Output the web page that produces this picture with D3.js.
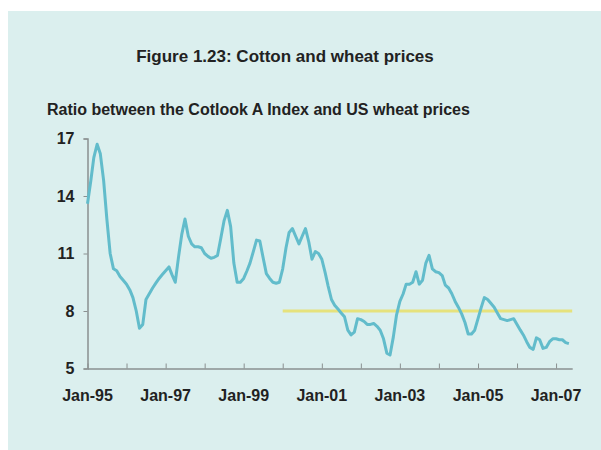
<!DOCTYPE html>
<html>
<head>
<meta charset="utf-8">
<script src="https://cdn.jsdelivr.net/npm/d3@7"></script>
<style>
  body { margin: 0; background: #fff; }
  text { font-family: "Liberation Sans", Arial, sans-serif; font-weight: bold; fill: #222; }
</style>
</head>
<body>
<div id="chart"></div>
<script>
// monthly ratio, Jan-95 onwards
var startMonth = "1995-01";
var ratio = [
  13.6, 14.8, 16.0, 16.7, 16.2, 14.8, 12.8, 11.0, 10.2, 10.1, 9.8, 9.6,
  9.4, 9.1, 8.7, 8.0, 7.1, 7.3, 8.6, 8.9, 9.2, 9.45, 9.7, 9.9,
  10.1, 10.3, 9.9, 9.5, 10.8, 12.0, 12.8, 11.9, 11.5, 11.35, 11.35, 11.3,
  11.0, 10.85, 10.75, 10.8, 10.9, 11.8, 12.7, 13.25, 12.4, 10.5, 9.5, 9.5,
  9.7, 10.1, 10.5, 11.1, 11.7, 11.65, 10.8, 9.95, 9.7, 9.5, 9.45, 9.5,
  10.2, 11.3, 12.1, 12.3, 11.9, 11.5, 11.9, 12.3, 11.6, 10.7, 11.1, 11.0,
  10.7, 10.0, 9.3, 8.6, 8.3, 8.1, 7.9, 7.7, 7.0, 6.75, 6.9, 7.6,
  7.55, 7.45, 7.3, 7.3, 7.35, 7.2, 7.0, 6.55, 5.8, 5.7, 6.65, 7.8,
  8.5, 8.9, 9.4, 9.4, 9.5, 10.05, 9.4, 9.6, 10.5, 10.9, 10.2, 10.05,
  10.0, 9.85, 9.35, 9.2, 8.9, 8.5, 8.2, 7.85, 7.4, 6.8, 6.8, 7.0,
  7.6, 8.2, 8.7, 8.6, 8.4, 8.2, 7.9, 7.6, 7.55, 7.5, 7.55, 7.6,
  7.3, 7.0, 6.75, 6.4, 6.1, 6.0, 6.6, 6.5, 6.05, 6.1, 6.4, 6.55,
  6.55, 6.5, 6.5, 6.35, 6.3
];
// average level since Jan-00
var avgStart = "2000-01";
var avgValue = 8.0;

var yTicks = [5, 8, 11, 14, 17];
var xLabels = ["Jan-95", "Jan-97", "Jan-99", "Jan-01", "Jan-03", "Jan-05", "Jan-07"];
var title = "Figure 1.23: Cotton and wheat prices";
var subtitle = "Ratio between the Cotlook A Index and US wheat prices";

var parseMonth = d3.timeParse("%Y-%m");
var parseLabel = d3.timeParse("%b-%y");
var t0 = parseMonth(startMonth);
var dates = ratio.map(function(d, i) { return d3.timeMonth.offset(t0, i); });
var tEnd = d3.timeMonth.offset(t0, ratio.length);

var W = 601, H = 450;
var svg = d3.select('#chart').append('svg')
    .attr('width', W)
    .attr('height', H);

svg.append('rect')
    .attr('x', 8).attr('y', 11)
    .attr('width', W - 8).attr('height', H - 11)
    .attr('fill', '#dbefee');

var x = d3.scaleTime()
    .domain([t0, tEnd])
    .range([87.5, 87.5 + ratio.length * 3.253]);
var y = d3.scaleLinear()
    .domain([5, 17])
    .range([368.5, 138.5]);

svg.append('text')
    .attr('x', 285).attr('y', 62)
    .attr('text-anchor', 'middle')
    .style('font-size', '17px')
    .text(title);
svg.append('text')
    .attr('x', 47).attr('y', 115)
    .style('font-size', '16px')
    .text(subtitle);

// y axis
var yAxis = svg.append('g')
    .attr('transform', 'translate(' + x(t0) + ',0)')
    .call(d3.axisLeft(y).tickValues(yTicks).tickSize(4).tickPadding(9));
yAxis.select('.domain').attr('stroke', '#8a9090').attr('stroke-width', 1.5);
yAxis.selectAll('.tick line').attr('stroke', '#8a9090');
yAxis.selectAll('.tick text')
    .style('font-size', '16px')
    .attr('fill', '#222');

// x axis
var xAxis = svg.append('g')
    .attr('transform', 'translate(0,' + y(5) + ')')
    .call(d3.axisBottom(x).ticks(d3.timeYear.every(1)).tickSizeInner(-5).tickSizeOuter(0).tickFormat(''));
xAxis.select('.domain').attr('stroke', '#8a9090').attr('stroke-width', 1.5);
xAxis.selectAll('.tick line').attr('stroke', '#8a9090');

svg.append('g').selectAll('text')
    .data(xLabels)
    .enter()
    .append('text')
    .attr('x', function(d) { return x(parseLabel(d)); })
    .attr('y', 401)
    .attr('text-anchor', 'middle')
    .style('font-size', '16px')
    .text(function(d) { return d; });

// average line
svg.append('line')
    .attr('x1', x(parseMonth(avgStart)))
    .attr('x2', x(tEnd))
    .attr('y1', y(avgValue))
    .attr('y2', y(avgValue))
    .attr('stroke', '#e6e27c')
    .attr('stroke-width', 3);

var line = d3.line()
    .x(function(d, i) { return x(dates[i]); })
    .y(function(d) { return y(d); });

svg.append('path')
    .datum(ratio)
    .attr('d', line)
    .attr('fill', 'none')
    .attr('stroke', '#62bccb')
    .attr('stroke-width', 3)
    .attr('stroke-linejoin', 'round');
</script>
</body>
</html>
